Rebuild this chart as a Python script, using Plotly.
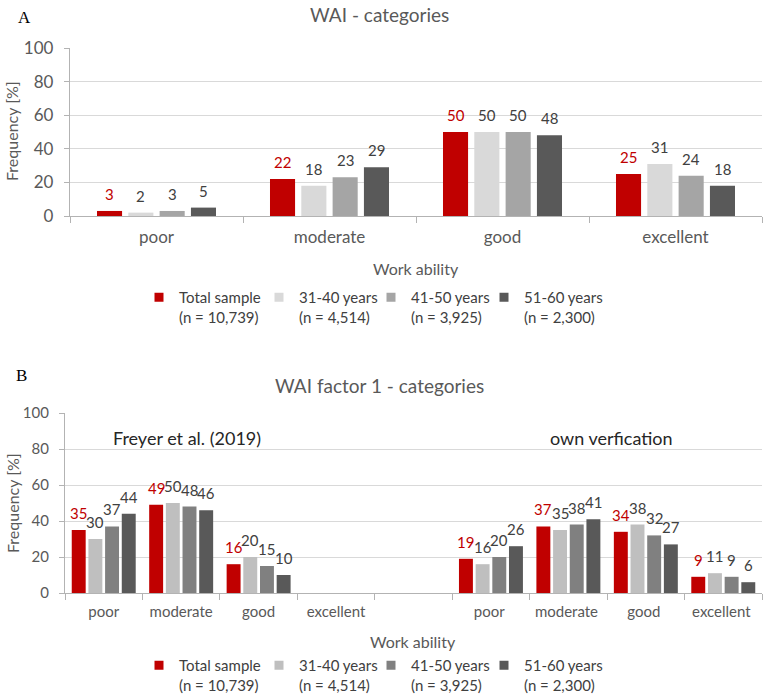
import plotly.graph_objects as go

# ---------------- data ----------------
CATS = ["poor", "moderate", "good", "excellent"]
SERIES = ["Total sample", "31-40 years", "41-50 years", "51-60 years"]
N_LABELS = ["(n = 10,739)", "(n = 4,514)", "(n = 3,925)", "(n = 2,300)"]

# Panel A: WAI categories
A_TOTAL = [3, 22, 50, 25]
A_31_40 = [2, 18, 50, 31]
A_41_50 = [3, 23, 50, 24]
A_51_60 = [5, 29, 48, 18]

# Panel B: WAI factor 1 categories
B_GROUPS = ["Freyer et al. (2019)", "own verfication"]
B_FREYER_TOTAL = [35, 49, 16, None]
B_FREYER_31_40 = [30, 50, 20, None]
B_FREYER_41_50 = [37, 48, 15, None]
B_FREYER_51_60 = [44, 46, 10, None]
B_OWN_TOTAL = [19, 37, 34, 9]
B_OWN_31_40 = [16, 35, 38, 11]
B_OWN_41_50 = [20, 38, 32, 9]
B_OWN_51_60 = [26, 41, 27, 6]

# ---------------- styles ----------------
W, H = 767, 695
FONT = "Lato"
RED = "#c00000"
A_COLORS = [RED, "#d9d9d9", "#a5a5a5", "#595959"]
B_COLORS = [RED, "#bfbfbf", "#808080", "#595959"]
LABEL_COLORS = [RED, "#404040", "#404040", "#404040"]
AXIS_C = "#595959"
LINE_C = "#b3b3b3"
GRID_C = "#d9d9d9"

A_HALF, A_W = 0.344, 0.145
B_HALF, B_W = 0.413, 0.18
LEGEND_TEXT_X = [180, 300, 412, 525]   # px where each legend text starts
LEGEND_A_Y, LEGEND_B_Y = 281, 649


def px_x(p):
    return p / W


def px_y(p):
    return 1 - p / H


fig = go.Figure()
annotations = []
legends = {}

legend_common = dict(
    orientation="h", xanchor="left", yanchor="top", valign="top",
    font=dict(family=FONT, size=15, color="#404040"),
    bgcolor="rgba(0,0,0,0)", borderwidth=0, itemclick=False,
    itemdoubleclick=False, tracegroupgap=0, itemwidth=30)


def legend_name(idx):
    return "legend" if idx == 1 else f"legend{idx}"


# ---------------- panel A ----------------
A_VALUES = [A_TOTAL, A_31_40, A_41_50, A_51_60]
a_step = (2 * A_HALF - A_W) / 3
for k, vals in enumerate(A_VALUES):
    off = -A_HALF + k * a_step
    fig.add_trace(go.Bar(
        x=CATS, y=vals, name=SERIES[k],
        marker=dict(color=A_COLORS[k], line=dict(width=0)),
        offset=off, width=A_W, xaxis="x", yaxis="y",
        showlegend=False, hoverinfo="skip"))
    lg = legend_name(k + 1)
    legends[lg] = dict(legend_common, x=px_x(LEGEND_TEXT_X[k] - 41), y=px_y(LEGEND_A_Y))
    fig.add_trace(go.Scatter(
        x=[None], y=[None], mode="markers", name=f"{SERIES[k]}<br>{N_LABELS[k]}",
        marker=dict(symbol="square", size=9, color=A_COLORS[k]),
        xaxis="x", yaxis="y", legend=lg, showlegend=True, hoverinfo="skip"))
    for i, v in enumerate(vals):
        if v is None:
            continue
        annotations.append(dict(
            x=i + off + A_W / 2, y=v, xref="x", yref="y",
            text=str(v), showarrow=False, yanchor="bottom", yshift=6,
            font=dict(family=FONT, size=15, color=LABEL_COLORS[k])))

# ---------------- panel B ----------------
B_CATS = CATS + [" "] + [c + " " for c in CATS]
B_VALUES = [
    B_FREYER_TOTAL + [None] + B_OWN_TOTAL,
    B_FREYER_31_40 + [None] + B_OWN_31_40,
    B_FREYER_41_50 + [None] + B_OWN_41_50,
    B_FREYER_51_60 + [None] + B_OWN_51_60,
]
b_step = (2 * B_HALF - B_W) / 3
for k, vals in enumerate(B_VALUES):
    off = -B_HALF + k * b_step
    fig.add_trace(go.Bar(
        x=B_CATS, y=vals, name=SERIES[k],
        marker=dict(color=B_COLORS[k], line=dict(width=0)),
        offset=off, width=B_W, xaxis="x2", yaxis="y2",
        showlegend=False, hoverinfo="skip"))
    lg = legend_name(k + 5)
    legends[lg] = dict(legend_common, x=px_x(LEGEND_TEXT_X[k] - 41), y=px_y(LEGEND_B_Y))
    fig.add_trace(go.Scatter(
        x=[None], y=[None], mode="markers", name=f"{SERIES[k]}<br>{N_LABELS[k]}",
        marker=dict(symbol="square", size=9, color=B_COLORS[k]),
        xaxis="x2", yaxis="y2", legend=lg, showlegend=True, hoverinfo="skip"))
    for i, v in enumerate(vals):
        if v is None:
            continue
        annotations.append(dict(
            x=i + off + B_W / 2, y=v, xref="x2", yref="y2",
            text=str(v), showarrow=False, yanchor="bottom", yshift=6,
            font=dict(family=FONT, size=15, color=LABEL_COLORS[k])))

# ---------------- texts ----------------
def txt(x, y, s, size, color=AXIS_C, family=FONT, angle=0, xanchor="center"):
    annotations.append(dict(
        x=px_x(x), y=px_y(y), xref="paper", yref="paper", text=s,
        showarrow=False, xanchor=xanchor, yanchor="middle", textangle=angle,
        font=dict(family=family, size=size, color=color)))


SERIF = "Liberation Serif"
txt(16, 17, "A", 17, "#000000", SERIF, xanchor="left")
txt(379, 15, "WAI - categories", 19)
txt(12, 131, "Frequency [%]", 16, angle=-90)
txt(416, 268, "Work ability", 16)

txt(14, 375, "B", 17, "#000000", SERIF, xanchor="left")
txt(379, 385, "WAI factor 1 - categories", 19)
txt(12, 503, "Frequency [%]", 16, angle=-90)
txt(413, 641, "Work ability", 16)
txt(187, 438, B_GROUPS[0], 18, "#262626")
txt(611, 438, B_GROUPS[1], 18, "#262626")

# ---------------- axes ----------------
def xaxis_style(cats, domain, size, anchor):
    return dict(
        type="category", categoryorder="array", categoryarray=cats,
        range=[-0.5, len(cats) - 0.5], domain=domain, anchor=anchor,
        showline=True, linecolor=LINE_C, linewidth=1.3,
        ticks="outside", tickson="boundaries", ticklen=6,
        tickcolor=LINE_C, tickwidth=1.3, ticklabelstandoff=5,
        tickfont=dict(family=FONT, size=size, color=AXIS_C),
        showgrid=False, zeroline=False, fixedrange=True)


def yaxis_style(domain, size, anchor):
    return dict(
        range=[0, 100], dtick=20, domain=domain, anchor=anchor,
        showline=True, linecolor=LINE_C, linewidth=1.3,
        ticks="outside", ticklen=5, tickcolor=LINE_C, tickwidth=1.3,
        ticklabelstandoff=7,
        showgrid=True, gridcolor=GRID_C, gridwidth=1.3,
        zeroline=False,
        tickfont=dict(family=FONT, size=size, color=AXIS_C), fixedrange=True)


fig.update_layout(
    width=W, height=H,
    margin=dict(l=0, r=0, t=0, b=0, autoexpand=False),
    paper_bgcolor="white", plot_bgcolor="white",
    barmode="overlay",
    xaxis=xaxis_style(CATS, [px_x(70), px_x(762)], 17, "y"),
    yaxis=yaxis_style([px_y(216), px_y(48)], 17, "x"),
    xaxis2=xaxis_style(B_CATS, [px_x(65), px_x(762)], 15, "y2"),
    yaxis2=yaxis_style([px_y(593), px_y(413)], 15, "x2"),
    annotations=annotations,
    showlegend=True,
    **legends,
)

fig.write_html("out.html")
